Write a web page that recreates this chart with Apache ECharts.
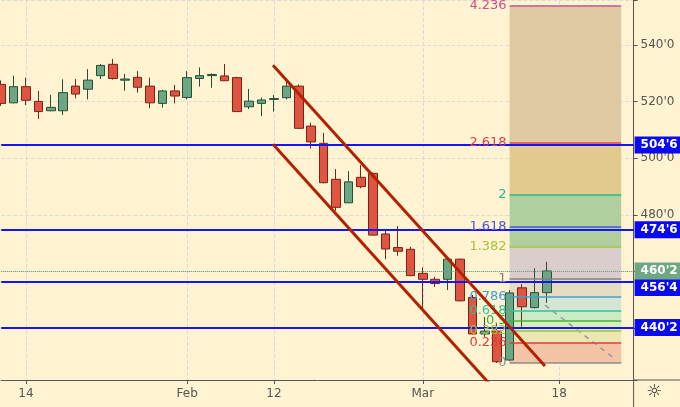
<!DOCTYPE html>
<html lang="en">
<head>
    <meta charset="UTF-8">
    <title>Fibonacci channel</title>
    <style>
        html, body { margin: 0; padding: 0; background: #fff3d1; }
    </style>
</head>
<body>
    <div id="main" style="width: 680px;height:407px;"></div>
</body>
<script src="https://cdn.jsdelivr.net/npm/echarts@6/dist/echarts.min.js"></script>
<script type="text/javascript">
    // trading days, Jan 10 .. Mar 26 (last ones are still empty)
    const dates = [
        '2019-01-10', '2019-01-11', '2019-01-14', '2019-01-15', '2019-01-16', '2019-01-17', '2019-01-18',
        '2019-01-22', '2019-01-23', '2019-01-24', '2019-01-25', '2019-01-28', '2019-01-29', '2019-01-30',
        '2019-01-31', '2019-02-01', '2019-02-04', '2019-02-05', '2019-02-06', '2019-02-07', '2019-02-08',
        '2019-02-11', '2019-02-12', '2019-02-13', '2019-02-14', '2019-02-15', '2019-02-19', '2019-02-20',
        '2019-02-21', '2019-02-22', '2019-02-25', '2019-02-26', '2019-02-27', '2019-02-28', '2019-03-01',
        '2019-03-04', '2019-03-05', '2019-03-06', '2019-03-07', '2019-03-08', '2019-03-11', '2019-03-12',
        '2019-03-13', '2019-03-14', '2019-03-15', '2019-03-18', '2019-03-19', '2019-03-20', '2019-03-21',
        '2019-03-22', '2019-03-25', '2019-03-26'
    ];
    const tickLabels = {
        '2019-01-14': '14', '2019-02-01': 'Feb', '2019-02-12': '12', '2019-03-01': 'Mar', '2019-03-18': '18'
    };

    // [open, close, low, high]
    const candles = [
        [526.1, 519.4, 518.5, 527.5], [519.6, 525.3, 519.4, 529.2], [525.3, 520.5, 518.8, 528.5],
        [520.1, 516.5, 513.9, 523.8], [516.8, 518.0, 516.6, 522.4], [516.8, 523.2, 515.3, 527.9],
        [525.5, 522.7, 521.2, 528.0], [524.4, 527.6, 520.8, 531.5], [529.2, 532.8, 528.0, 533.3],
        [533.2, 528.2, 527.8, 535.1], [527.6, 528.0, 523.9, 529.8], [528.6, 525.1, 523.2, 530.8],
        [525.5, 519.6, 517.7, 528.5], [519.4, 523.8, 517.9, 524.2], [523.8, 522.0, 519.4, 525.9],
        [521.5, 528.5, 520.8, 530.8], [528.2, 529.2, 525.3, 532.1], [529.2, 529.6, 524.9, 530.0],
        [529.1, 527.4, 527.3, 533.3], [528.5, 516.5, 516.4, 528.8], [518.2, 520.2, 517.4, 524.5],
        [519.4, 520.6, 514.9, 521.5], [520.8, 521.1, 516.5, 522.4], [521.4, 525.5, 520.8, 527.1],
        [525.5, 510.6, 510.4, 526.1], [511.4, 505.8, 503.4, 512.6], [505.3, 491.4, 491.2, 509.0],
        [492.6, 482.7, 481.5, 496.2], [484.3, 491.7, 484.2, 495.5], [493.3, 490.0, 489.4, 497.6],
        [494.7, 472.9, 472.8, 495.0], [473.3, 468.0, 464.4, 474.9], [468.5, 467.2, 465.6, 476.1],
        [467.9, 458.6, 458.4, 468.8], [459.4, 457.3, 447.1, 461.5], [457.3, 455.8, 454.6, 458.2],
        [457.3, 464.4, 453.5, 464.6], [464.4, 449.7, 449.5, 464.6], [450.9, 438.0, 437.8, 451.8],
        [438.0, 439.0, 437.0, 444.0], [439.0, 428.2, 427.75, 441.5], [428.8, 452.5, 428.5, 453.5],
        [454.3, 447.6, 440.6, 455.6], [447.3, 452.6, 447.0, 461.2], [452.6, 460.25, 449.0, 463.5]
    ];

    const keyLevels = [504.75, 474.75, 456.5, 440.25];
    const lastPrice = 460.25;

    const fibLow = 427.75;
    const fibHigh = 457.5;
    const fibRatios = [0, 0.236, 0.382, 0.5, 0.618, 0.786, 1, 1.382, 1.618, 2, 2.618, 4.236];
    const fibFrom = 39;   // day index (0 = Jan 14)
    const fibTo = 48;

    // drawn trend lines, [day index, price]
    const channelUpper = [[19.92, 532.9], [41.85, 426.7]];
    const channelLower = [[19.92, 505.0], [37.42, 420.2]];
    const projection = [[41.85, 448.2], [47.4, 429.5]];

    // styles
    const fibLineColors = ['#8c8c8c', '#e03c3c', '#a2c43a', '#3cb43c', '#2ec49c', '#3c9ee0',
        '#808080', '#a2c43a', '#4a55dc', '#2ab48c', '#e04050', '#d0508a'];
    const fibBandColors = ['#f3c4a6', '#ebe7b1', '#dbedba', '#caebc3', '#d6e5d1', '#e6dcc2',
        '#dacdcb', '#afcf9f', '#afcf9f', '#e2c98e', '#dfc9a2'];
    const font = 'DejaVu Sans, Verdana, sans-serif';

    function eighths(v) {
        const whole = Math.floor(v + 1e-9);
        return whole + "'" + Math.round((v - whole) * 8);
    }
    const fibPrice = r => fibLow + r * (fibHigh - fibLow);
    const isTick = (i, v) => tickLabels[v] !== undefined;

    const fibAreas = [];
    const fibLines = [];
    fibRatios.forEach((r, k) => {
        if (k < fibRatios.length - 1) {
            fibAreas.push([
                {coord: [fibFrom, fibPrice(r)], itemStyle: {color: fibBandColors[k]}},
                {coord: [fibTo, fibPrice(fibRatios[k + 1])]}
            ]);
        }
        fibLines.push([
            {coord: [fibFrom, fibPrice(r)], lineStyle: {color: fibLineColors[k]},
             label: {color: fibLineColors[k], formatter: String(r)}},
            {coord: [fibTo, fibPrice(r)]}
        ]);
    });

    const levelLines = keyLevels.map(v => ({
        yAxis: v,
        label: {formatter: eighths(v), offset: v === 456.5 ? [0, 6] : [0, 0]}
    }));

    const myChart = echarts.init(document.getElementById('main'));
    const option = {
        animation: false,
        backgroundColor: '#fff3d1',
        textStyle: {fontFamily: font},
        grid: {left: 1.2, right: 46.4, top: 0, bottom: 27},
        xAxis: [{
            type: 'category',
            data: dates,
            boundaryGap: false,
            axisLine: {lineStyle: {color: '#555', width: 1}},
            axisTick: {interval: isTick, length: 4, lineStyle: {color: '#555'}},
            axisLabel: {
                interval: isTick, color: '#555', fontSize: 12, margin: 8, fontFamily: font,
                formatter: v => tickLabels[v] || ''
            },
            splitLine: {show: true, interval: isTick, lineStyle: {type: 'dashed', color: '#d9dae2'}}
        }, {
            type: 'value', show: false, min: -2, max: 49
        }],
        yAxis: {
            type: 'value',
            position: 'right',
            min: 421.75,
            max: 555.9,
            splitNumber: 7,
            axisLine: {show: true, onZero: false, lineStyle: {color: '#555', width: 1}},
            axisTick: {show: true, length: 4, lineStyle: {color: '#555'}},
            axisLabel: {
                color: '#555', fontSize: 12, margin: 7, fontFamily: font,
                formatter: v => (Math.abs(v % 20) < 1e-6 ? eighths(v) : '')
            },
            splitLine: {show: true, lineStyle: {type: 'dashed', color: '#dcdcdc'}}
        },
        series: [{
            name: 'fib',
            type: 'line',
            xAxisIndex: 1,
            z: 1,
            data: projection,
            symbol: 'none',
            silent: true,
            lineStyle: {color: '#9a9a9a', width: 1.5, type: [5, 5]},
            markArea: {silent: true, label: {show: false}, data: fibAreas},
            markLine: {
                silent: true,
                symbol: ['none', 'none'],
                lineStyle: {type: 'solid', width: 1.5},
                label: {position: 'start', distance: 3, fontSize: 13, fontFamily: font},
                data: fibLines
            }
        }, {
            name: 'price',
            type: 'candlestick',
            z: 3,
            barWidth: 9,
            data: candles,
            silent: true,
            itemStyle: {
                color: '#6ca682', color0: '#e05442',
                borderColor: '#24503a', borderColor0: '#7a2416', borderWidth: 1
            }
        }, {
            name: 'channel-upper',
            type: 'line',
            xAxisIndex: 1,
            z: 5,
            data: channelUpper,
            symbol: 'none',
            silent: true,
            lineStyle: {color: '#b22200', width: 3},
            markLine: {
                silent: true,
                symbol: ['none', 'none'],
                lineStyle: {type: 'solid', color: '#1414ff', width: 2},
                label: {
                    position: 'end', distance: 1, color: '#fff', fontSize: 12, fontWeight: 'bold',
                    fontFamily: font, backgroundColor: '#0a0af0', padding: [2, 6, 2, 6], lineHeight: 13
                },
                data: levelLines.concat([{
                    yAxis: lastPrice,
                    lineStyle: {type: 'dotted', color: '#5a9a78', width: 1},
                    label: {formatter: eighths(lastPrice), backgroundColor: '#6ea882'}
                }])
            }
        }, {
            name: 'channel-lower',
            type: 'line',
            xAxisIndex: 1,
            z: 5,
            data: channelLower,
            symbol: 'none',
            silent: true,
            lineStyle: {color: '#b22200', width: 3}
        }],
        graphic: [
            {type: 'line', shape: {x1: 633.6, y1: 380, x2: 633.6, y2: 407}, style: {stroke: '#555', lineWidth: 1}},
            {type: 'line', shape: {x1: 633.6, y1: 380, x2: 680, y2: 380}, style: {stroke: '#555', lineWidth: 1}},
            {type: 'text', left: 646, top: 383, style: {text: '☼', fontSize: 18, fill: '#333', fontFamily: 'DejaVu Sans'}}
        ]
    };
    myChart.setOption(option);
</script>
</html>
